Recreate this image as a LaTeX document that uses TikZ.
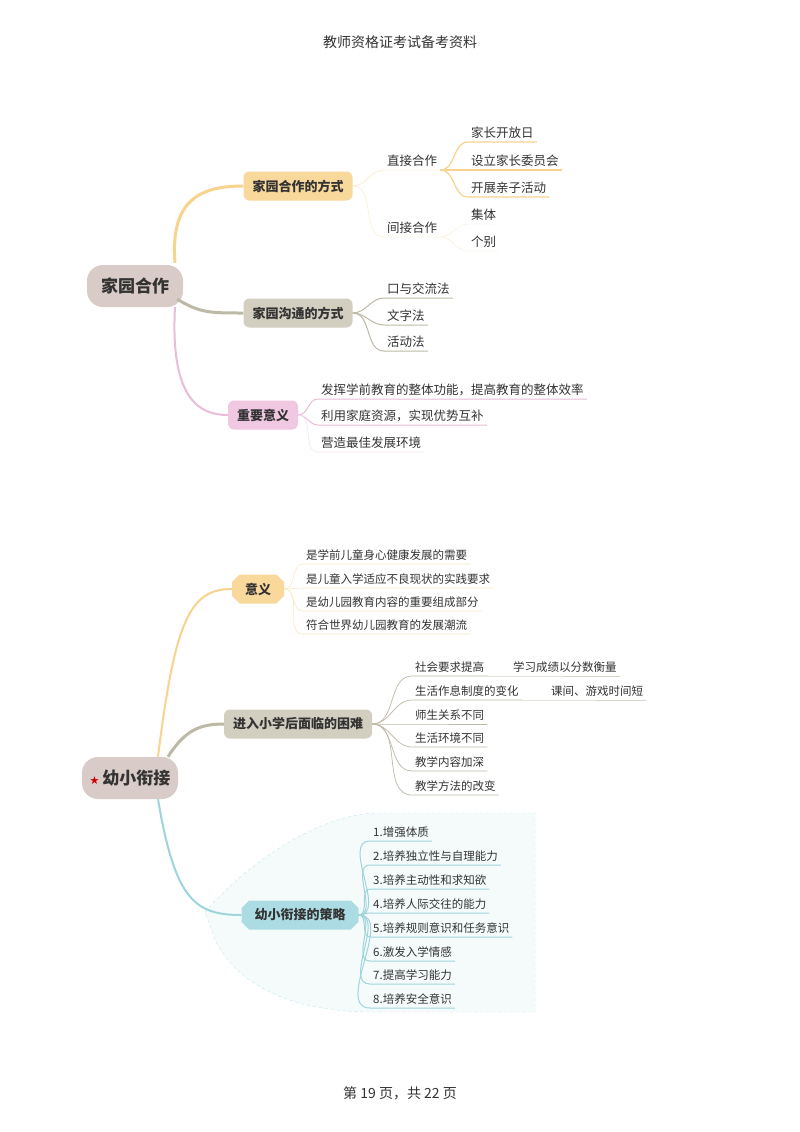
\documentclass[tikz,border=0pt]{standalone}
\usepackage{fontspec}
\usetikzlibrary{shapes.misc}
\setmainfont{Noto Sans CJK SC}
\newfontfamily\djv{DejaVu Sans}
\definecolor{cy}{HTML}{F7D38E}
\definecolor{fy}{HTML}{F9D89C}
\definecolor{cg}{HTML}{BDB9A7}
\definecolor{fg}{HTML}{D2CFC0}
\definecolor{cp}{HTML}{EBBCD9}
\definecolor{fp}{HTML}{F0C8E2}
\definecolor{ct}{HTML}{9ED4DC}
\definecolor{ft}{HTML}{ACDCE3}
\definecolor{froot}{HTML}{D9CBC7}
\definecolor{tx}{HTML}{333333}
\begin{document}
\begin{tikzpicture}[x=1pt,y=-1pt,
  rootbox/.style={rounded corners=16pt,fill=froot,minimum width=96,minimum height=42,font=\fontsize{17}{17}\selectfont\bfseries,text=tx},
  brbox/.style={rounded corners=6pt,minimum height=29,font=\fontsize{13}{13}\selectfont\bfseries,text=tx,inner xsep=9},
  leaf/.style={anchor=south west,inner sep=3pt,font=\fontsize{12.5}{13}\selectfont,text=tx},
  sleaf/.style={anchor=south west,inner sep=3pt,font=\fontsize{11.5}{12}\selectfont,text=tx}]
\useasboundingbox (0,0) rectangle (800,1132);
\fill[white] (0,0) rectangle (800,1132);
\node[font=\fontsize{14}{14}\selectfont,text=tx] (hd) at (400,42) {教师资格证考试备考资料};
\node[font=\fontsize{14}{14}\selectfont,text=tx] (ft) at (400,1093) {第 19 页，共 22 页};

% ---------- top map
\node[rootbox] (r1) at (135,286) {家园合作};
\node[brbox,fill=fy] (b1) at (298,186) {家园合作的方式};
\node[brbox,fill=fg] (b2) at (298,313) {家园沟通的方式};
\node[brbox,fill=fp] (b3) at (263,415) {重要意义};
\draw[cy,line width=3] (r1.north) ++(40,-2) coordinate (r1a) (r1a) .. controls (170,200) and (200,186) .. (b1.west);
\draw[cg,line width=3] (r1.south east) ++(-6,-8) coordinate (r1b) (r1b) .. controls (200,313) and (210,313) .. (b2.west);
\draw[cp,line width=2] (r1.south) ++(40,0) coordinate (r1c) (r1c) .. controls (170,400) and (200,415) .. (b3.west);

\node[leaf] (s1) at (384,170) {直接合作};
\node[leaf] (s2) at (384,237) {间接合作};
\draw[cy!70,thin] (b1.east) to[out=0,in=180] (s1.south west) -- (s1.south east);
\draw[cy!50,thin] (b1.east) to[out=0,in=180] (s2.south west) -- (s2.south east);
\node[leaf] (l1) at (468,142) {家长开放日};
\node[leaf] (l2) at (468,170) {设立家长委员会};
\node[leaf] (l3) at (468,197) {开展亲子活动};
\node[leaf] (l4) at (468,224) {集体};
\node[leaf] (l5) at (468,251) {个别};
\foreach \n in {l1,l2,l3}{\draw[cy,line width=1.2] (s1.south east) to[out=0,in=180] (\n.south west) -- (\n.south east);}
\foreach \n in {l4,l5}{\draw[cy!40,thin] (s2.south east) to[out=0,in=180] (\n.south west) -- (\n.south east);}

\node[leaf] (m1) at (384,298) {口与交流法};
\node[leaf] (m2) at (384,325) {文字法};
\node[leaf] (m3) at (384,351) {活动法};
\foreach \n in {m1,m2,m3}{\draw[cg,line width=1] (b2.east) to[out=0,in=180] (\n.south west) -- (\n.south east);}

\node[leaf] (p1) at (318,399) {发挥学前教育的整体功能，提高教育的整体效率};
\node[leaf] (p2) at (318,425) {利用家庭资源，实现优势互补};
\node[leaf] (p3) at (318,452) {营造最佳发展环境};
\draw[cp,line width=1] (b3.east) to[out=0,in=180] (p1.south west) -- (p1.south east);
\draw[cp,line width=1] (b3.east) to[out=0,in=180] (p2.south west) -- (p2.south east);
\draw[cp!40,line width=0.6] (b3.east) to[out=0,in=180] (p3.south west) -- (p3.south east);

% ---------- bottom map
\fill[ct!10,draw=ct!60,dashed] (205,912) .. controls (250,860) and (320,815) .. (375,813) -- (535,813) -- (535,1012) -- (372,1012) .. controls (300,1012) and (240,990) .. (215,940) -- cycle;
\node[rootbox] (r2) at (130,778) {{\djv\fontsize{11}{11}\selectfont\color{red!80!black}★}\,幼小衔接};
\node[brbox,fill=fy,chamfered rectangle,chamfered rectangle xsep=4pt,rounded corners=0] (c1) at (258,589) {意义};
\node[brbox,fill=fg] (c2) at (298,724) {进入小学后面临的困难};
\node[brbox,fill=ft,chamfered rectangle,chamfered rectangle xsep=4pt,rounded corners=0] (c3) at (300,915) {幼小衔接的策略};
\draw[cy,line width=2] (r2.north) ++(28,0) coordinate (r2a) (r2a) .. controls (175,620) and (190,589) .. (c1.west);
\draw[cg,line width=3] (r2.north) ++(38,0) coordinate (r2b) (r2b) .. controls (185,730) and (200,724) .. (c2.west);
\draw[ct,line width=2] (r2.south) ++(28,0) coordinate (r2c) (r2c) .. controls (175,900) and (195,915) .. (c3.west);

\node[sleaf] (q1) at (303,564) {是学前儿童身心健康发展的需要};
\node[sleaf] (q2) at (303,588) {是儿童入学适应不良现状的实践要求};
\node[sleaf] (q3) at (303,611) {是幼儿园教育内容的重要组成部分};
\node[sleaf] (q4) at (303,634) {符合世界幼儿园教育的发展潮流};
\foreach \n in {q1,q2,q3,q4}{\draw[cy!50,line width=0.6] (c1.east) to[out=0,in=180] (\n.south west) -- (\n.south east);}

\node[sleaf] (d1) at (412,676) {社会要求提高};
\node[sleaf] (d2) at (412,700) {生活作息制度的变化};
\node[sleaf] (d3) at (412,724) {师生关系不同};
\node[sleaf] (d4) at (412,747) {生活环境不同};
\node[sleaf] (d5) at (412,771) {教学内容加深};
\node[sleaf] (d6) at (412,795) {教学方法的改变};
\foreach \n in {d1,d2,d3,d4,d5,d6}{\draw[cg,line width=0.7] (c2.east) to[out=0,in=180] (\n.south west) -- (\n.south east);}
\node[sleaf] (e1) at (510,676) {学习成绩以分数衡量};
\node[sleaf] (e2) at (548,700) {课间、游戏时间短};
\draw[cg!60,line width=0.6] (d1.south east) -- (e1.south west) -- (e1.south east);
\draw[cg!60,line width=0.6] (d2.south east) -- (e2.south west) -- (e2.south east);

\node[sleaf] (t1) at (370,841) {1.增强体质};
\node[sleaf] (t2) at (370,865) {2.培养独立性与自理能力};
\node[sleaf] (t3) at (370,889) {3.培养主动性和求知欲};
\node[sleaf] (t4) at (370,913) {4.培养人际交往的能力};
\node[sleaf] (t5) at (370,937) {5.培养规则意识和任务意识};
\node[sleaf] (t6) at (370,961) {6.激发入学情感};
\node[sleaf] (t7) at (370,984) {7.提高学习能力};
\node[sleaf] (t8) at (370,1008) {8.培养安全意识};
\foreach \n in {t1,t2,t3,t4,t5,t6,t7,t8}{\draw[ct,line width=1] (c3.east) to[out=0,in=180] (\n.south west) -- (\n.south east);}
\end{tikzpicture}
\end{document}
